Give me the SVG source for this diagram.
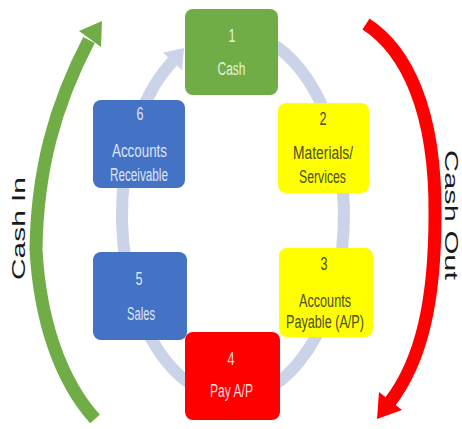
<svg xmlns="http://www.w3.org/2000/svg" width="462" height="429" viewBox="0 0 462 429">
<style>
.t{font-family:"Liberation Sans",Arial,sans-serif;font-size:18px;text-anchor:middle}
.lbl{font-family:"Liberation Sans",Arial,sans-serif;fill:#1a1a1a;text-anchor:middle}
.tg{fill:#E4F1DA}
.tb{fill:#DCE5F5}
.ty{fill:#4E4E22}
.tr{fill:#FFD6D6}
</style>
<rect width="462" height="429" fill="#ffffff"/>
<g id="connectors">
  <g id="cycle-ring">
    <path d="M261.7,38.2 A111,183 0 1 1 172.5,61.5" fill="none" stroke="#CBD3E8" stroke-width="12"/>
    <polygon points="184,48 182,70.3 163,52.7" fill="#CBD3E8"/>
  </g>
  <g id="cash-in-arrow">
    <path d="M95,419 C60,380 40,320 36,250 C37,170 55,105 89,40" fill="none" stroke="#70AD47" stroke-width="13"/>
    <polygon points="102,21 79,31 101,47" fill="#70AD47"/>
  </g>
  <g id="cash-out-arrow">
    <path d="M366,24 C406,50 436,110 435,215 C435,300 422,360 390,402" fill="none" stroke="#FF0000" stroke-width="13"/>
    <polygon points="377,419 379,392 402,410" fill="#FF0000"/>
  </g>
</g>
<g id="node1">
  <rect x="185" y="9" width="93" height="86" rx="8" fill="#70AD47"/>
  <text class="t tg" x="232" y="42" textLength="7" lengthAdjust="spacingAndGlyphs">1</text>
  <text class="t tg" x="231.5" y="75" textLength="28" lengthAdjust="spacingAndGlyphs">Cash</text>
</g>
<g id="node2">
  <rect x="278" y="103" width="91" height="90" rx="8" fill="#FFFF00"/>
  <text class="t ty" x="323" y="125" textLength="7" lengthAdjust="spacingAndGlyphs">2</text>
  <text class="t ty" x="323" y="159" textLength="60" lengthAdjust="spacingAndGlyphs">Materials/</text>
  <text class="t ty" x="322.5" y="183" textLength="47" lengthAdjust="spacingAndGlyphs">Services</text>
</g>
<g id="node3">
  <rect x="279" y="248" width="94" height="89" rx="8" fill="#FFFF00"/>
  <text class="t ty" x="324" y="270" textLength="7" lengthAdjust="spacingAndGlyphs">3</text>
  <text class="t ty" x="325" y="307" textLength="52" lengthAdjust="spacingAndGlyphs">Accounts</text>
  <text class="t ty" x="325" y="328" textLength="78" lengthAdjust="spacingAndGlyphs">Payable (A/P)</text>
</g>
<g id="node4">
  <rect x="185" y="332" width="95" height="88" rx="8" fill="#FF0000"/>
  <text class="t tr" x="231" y="365" textLength="7" lengthAdjust="spacingAndGlyphs">4</text>
  <text class="t tr" x="231.5" y="397" textLength="43" lengthAdjust="spacingAndGlyphs">Pay A/P</text>
</g>
<g id="node5">
  <rect x="93" y="252" width="94" height="88" rx="8" fill="#4472C4"/>
  <text class="t tb" x="139" y="285" textLength="7" lengthAdjust="spacingAndGlyphs">5</text>
  <text class="t tb" x="141" y="320" textLength="28" lengthAdjust="spacingAndGlyphs">Sales</text>
</g>
<g id="node6">
  <rect x="93" y="100" width="92" height="88" rx="8" fill="#4472C4"/>
  <text class="t tb" x="140" y="120" textLength="7" lengthAdjust="spacingAndGlyphs">6</text>
  <text class="t tb" x="139.5" y="157" textLength="55" lengthAdjust="spacingAndGlyphs">Accounts</text>
  <text class="t tb" x="139" y="181" textLength="58" lengthAdjust="spacingAndGlyphs">Receivable</text>
</g>
<g id="label-cash-in">
  <text class="lbl" font-size="18" transform="translate(25,228.5) rotate(-90)" textLength="103" lengthAdjust="spacingAndGlyphs">Cash In</text>
</g>
<g id="label-cash-out">
  <text class="lbl" font-size="19" transform="translate(445,215) rotate(90)" textLength="130" lengthAdjust="spacingAndGlyphs">Cash Out</text>
</g>
</svg>
